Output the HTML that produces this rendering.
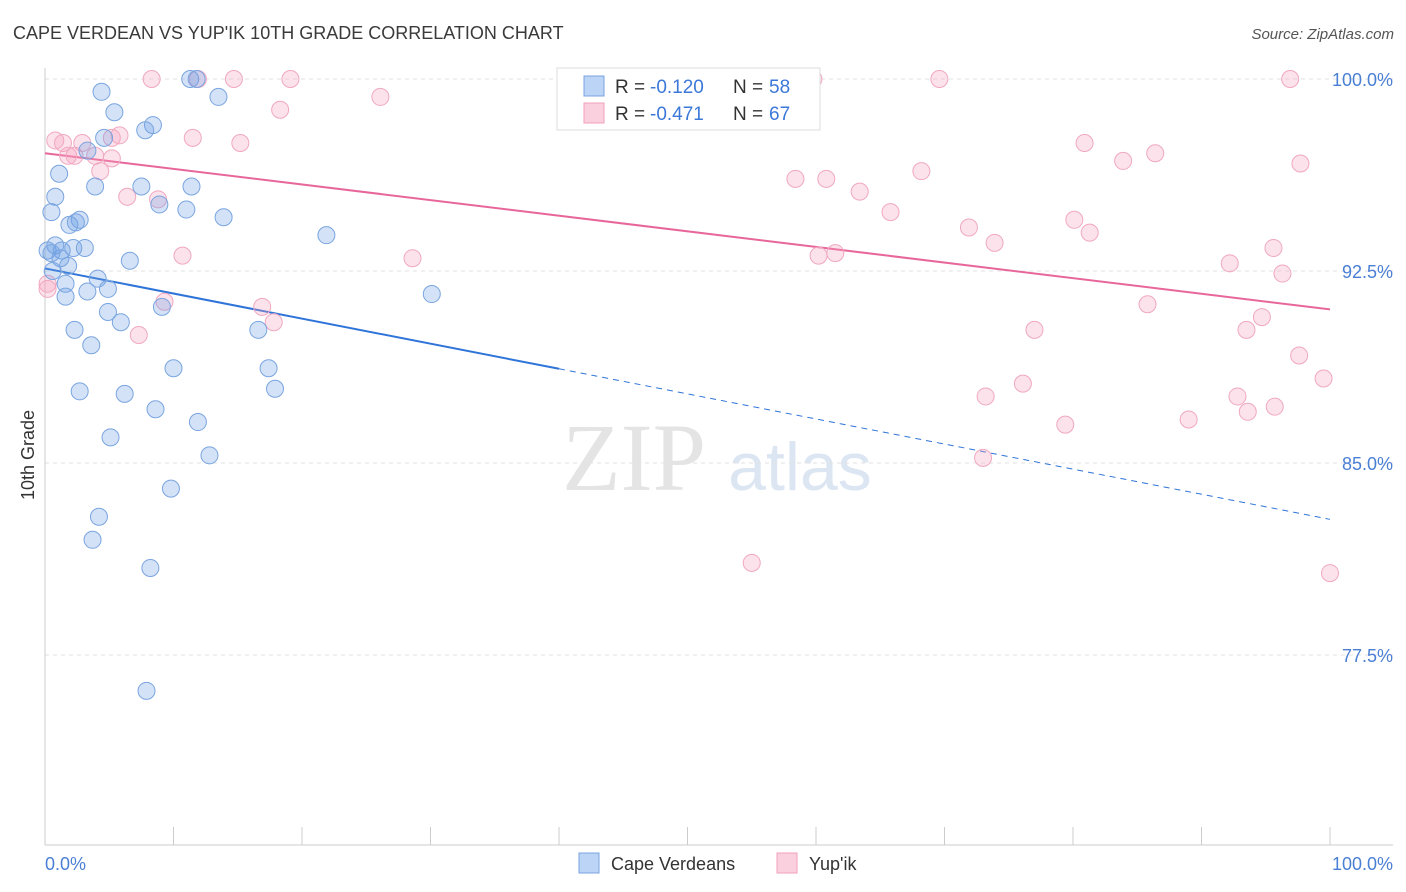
<!DOCTYPE html>
<html><head><meta charset="utf-8"><style>
body{margin:0;background:#fff;font-family:"Liberation Sans",sans-serif;}
svg{display:block}
</style></head><body>
<svg id="chart" width="1406" height="892">
<text x="13" y="39" font-size="18" fill="#3a3a3a">CAPE VERDEAN VS YUP'IK 10TH GRADE CORRELATION CHART</text>
<text x="1394" y="39" font-size="15" fill="#555" font-style="italic" text-anchor="end">Source: ZipAtlas.com</text>
<text x="634" y="490" font-size="96" fill="#e4e4e4" font-family="Liberation Serif" text-anchor="middle">ZIP</text>
<text x="800" y="490" font-size="68" fill="#dce6f3" text-anchor="middle">atlas</text>
<g id="grid"></g><g id="axes"></g><g id="lines"></g><g id="pts"></g>
<text transform="translate(34,455) rotate(-90)" font-size="18" fill="#333" text-anchor="middle">10th Grade</text>
<text x="45" y="870" font-size="18" fill="#4a7fd4">0.0%</text>
<text x="1393" y="870" font-size="18" fill="#4a7fd4" text-anchor="end">100.0%</text>
<g>
<rect x="557" y="68" width="263" height="62" fill="#fff" stroke="#ddd"/>
<rect x="584" y="76" width="20" height="20" fill="#bcd4f5" stroke="#7aa5e0"/>
<rect x="584" y="103" width="20" height="20" fill="#fbd0de" stroke="#f0a0bb"/>
<text x="615" y="93" font-size="19" fill="#333">R =</text>
<text x="650" y="93" font-size="19" fill="#3b78d8">-0.120</text>
<text x="733" y="93" font-size="19" fill="#333">N =</text>
<text x="769" y="93" font-size="19" fill="#3b78d8">58</text>
<text x="615" y="120" font-size="19" fill="#333">R =</text>
<text x="650" y="120" font-size="19" fill="#3b78d8">-0.471</text>
<text x="733" y="120" font-size="19" fill="#333">N =</text>
<text x="769" y="120" font-size="19" fill="#3b78d8">67</text>
</g>
<g>
<rect x="579" y="853" width="20" height="20" fill="#bcd4f5" stroke="#7aa5e0"/>
<text x="611" y="870" font-size="18" fill="#333">Cape Verdeans</text>
<rect x="777" y="853" width="20" height="20" fill="#fbd0de" stroke="#f0a0bb"/>
<text x="809" y="870" font-size="18" fill="#333">Yup'ik</text>
</g>
</svg>
<script>
const yTicks=[100,92.5,85,77.5];
const yTickLabels=["100.0%","92.5%","85.0%","77.5%"];
const blueX=[11.3,11.8,4.4,13.5,5.4,8.4,7.8,4.6,3.3,1.1,0.8,3.9,7.5,11.4,0.5,8.9,11.0,13.9,2.7,1.9,2.4,21.9,0.2,0.8,1.3,2.2,3.1,6.6,1.2,1.8,4.1,0.6,1.6,4.9,3.3,1.6,30.1,9.1,4.9,5.9,2.3,16.6,3.6,10.0,17.4,2.7,6.2,17.9,8.6,11.9,5.1,12.8,9.8,4.2,3.7,8.2,7.9,0.5];
const blueY=[100,100,99.5,99.3,98.7,98.2,98.0,97.7,97.2,96.3,95.4,95.8,95.8,95.8,94.8,95.1,94.9,94.6,94.5,94.3,94.4,93.9,93.3,93.5,93.3,93.4,93.4,92.9,93.0,92.7,92.2,92.5,92.0,91.8,91.7,91.5,91.6,91.1,90.9,90.5,90.2,90.2,89.6,88.7,88.7,87.8,87.7,87.9,87.1,86.6,86.0,85.3,84.0,82.9,82.0,80.9,76.1,93.2];
const pinkX=[0.8,1.4,2.9,5.8,5.2,11.5,8.3,11.9,14.7,19.1,41.6,50.0,59.8,69.6,96.9,26.1,18.3,15.2,1.8,2.3,3.9,5.2,4.3,6.4,8.8,80.9,83.9,86.4,97.7,58.4,60.8,63.4,68.2,65.8,80.1,81.3,71.9,73.9,10.7,28.6,60.2,61.5,95.6,92.2,96.3,9.3,16.9,17.8,7.3,0.2,0.2,85.8,94.7,93.5,77.0,97.6,76.1,73.2,99.5,92.8,93.6,95.7,79.4,89.0,73.0,55.0,100];
const pinkY=[97.6,97.5,97.5,97.8,97.7,97.7,100,100,100,100,100,100,100,100,100,99.3,98.8,97.5,97.0,97.0,97.0,96.9,96.4,95.4,95.3,97.5,96.8,97.1,96.7,96.1,96.1,95.6,96.4,94.8,94.5,94.0,94.2,93.6,93.1,93.0,93.1,93.2,93.4,92.8,92.4,91.3,91.1,90.5,90.0,91.8,92.0,91.2,90.7,90.2,90.2,89.2,88.1,87.6,88.3,87.6,87.0,87.2,86.5,86.7,85.2,81.1,80.7];
const blueTrend=[92.6,82.8];
const pinkTrend=[97.1,91.0];
const NS="http://www.w3.org/2000/svg";
const xs=v=>45+v*12.85, ys=v=>79+(100-v)*25.6;
function mk(tag,attrs,parent){const e=document.createElementNS(NS,tag);for(const k in attrs)e.setAttribute(k,attrs[k]);document.getElementById(parent).appendChild(e);return e;}
yTicks.forEach((t,i)=>{
 const g=mk('line',{x1:45,x2:1393,y1:ys(t),y2:ys(t),stroke:'#e2e2e2','stroke-dasharray':'4,4'},'grid');
 
 
 const l=mk('text',{x:1393,y:ys(t)+7,'font-size':18,fill:'#4a7fd4','text-anchor':'end'},'grid');
 l.textContent=yTickLabels[i];
 
 
});
const ax=mk('line',{x1:45,x2:1393,y1:845,y2:845,stroke:'#ccc'},'axes');


const ay=mk('line',{x1:45,x2:45,y1:68,y2:845,stroke:'#ccc'},'axes');


for(let k=0;k<=10;k++){const t=mk('line',{x1:xs(k*10),x2:xs(k*10),y1:827,y2:845,stroke:'#ccc'},'axes');
 
 }
function dots(X,Y,fill,stroke,name){X.forEach((x,i)=>{const c=mk('circle',{cx:xs(x),cy:ys(Y[i]),r:8.5,fill:fill,stroke:stroke,'stroke-width':1},'pts');
 
 });}
dots(pinkX,pinkY,'rgba(244,160,190,0.3)','#f0a8c0','yupik-point');
dots(blueX,blueY,'rgba(110,160,230,0.3)','#7aa5e0','cape-verdean-point');
const bAt=x=>blueTrend[0]+(blueTrend[1]-blueTrend[0])*x/100;
const b1=mk('line',{x1:xs(0),y1:ys(bAt(0)),x2:xs(40),y2:ys(bAt(40)),stroke:'#2f74d8','stroke-width':2},'lines');


const b2=mk('line',{x1:xs(40),y1:ys(bAt(40)),x2:xs(100),y2:ys(bAt(100)),stroke:'#2f74d8','stroke-width':1,'stroke-dasharray':'6,5'},'lines');


const p1=mk('line',{x1:xs(0),y1:ys(pinkTrend[0]),x2:xs(100),y2:ys(pinkTrend[1]),stroke:'#e8679a','stroke-width':2},'lines');


</script>
</body></html>
